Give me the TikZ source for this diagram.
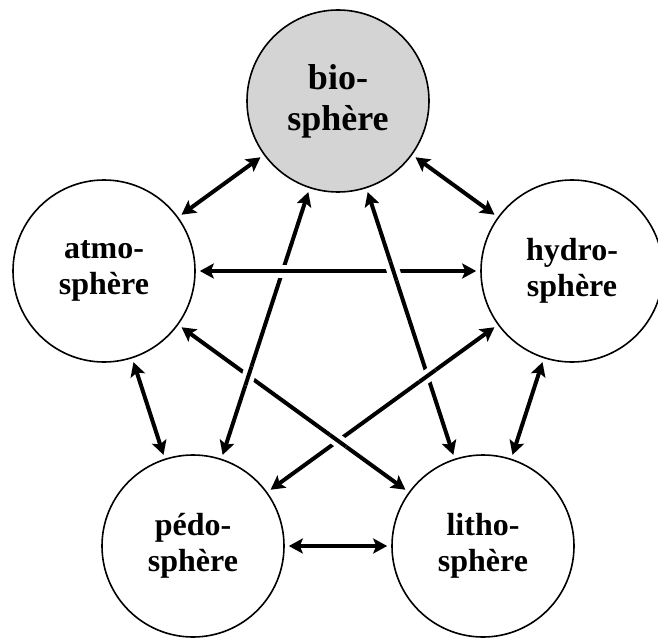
\documentclass[tikz,border=0pt]{standalone}
\usepackage{fontspec}
\setmainfont{Liberation Serif}
\usetikzlibrary{arrows.meta,calc}
\begin{document}
\begin{tikzpicture}[x=1pt,y=-1pt,
  sphere/.style={circle,draw,line width=1.6pt,minimum size=182pt,inner sep=0pt,align=center,
    font=\bfseries\fontsize{32}{36}\selectfont},
  link/.style={line width=4pt,
    {Stealth[length=14pt,width=15pt,inset=3pt]}-{Stealth[length=14pt,width=15pt,inset=3pt]},
    shorten <=4pt,shorten >=4pt},
  halo/.style={white,line width=13pt},
  plain/.style={line width=4pt}]
\useasboundingbox (0,0) rectangle (658,639);
\node[sphere,fill=black!17,font=\bfseries\fontsize{36}{41}\selectfont] (bio) at (338,101) {bio-\\sphère};
\node[sphere] (atmo) at (104,271) {atmo-\\sphère};
\node[sphere] (hydro) at (572,271) {hydro-\\sphère};
\node[sphere] (pedo) at (193,546) {pédo-\\sphère};
\node[sphere] (litho) at (483,546) {litho-\\sphère};
% adjacent links
\draw[link] (bio) -- (atmo);
\draw[link] (bio) -- (hydro);
\draw[link] (atmo) -- (pedo);
\draw[link] (hydro) -- (litho);
\draw[link] (pedo) -- (litho);
% star links
\draw[link] (atmo) -- (hydro);
\draw[link] (bio) -- (pedo);
\draw[link] (bio) -- (litho);
\draw[link] (atmo) -- (litho);
\draw[link] (hydro) -- (pedo);
% crossings (over-line redrawn with white halo)
\coordinate (c1) at (intersection of atmo--hydro and bio--pedo);
\coordinate (c2) at (intersection of atmo--hydro and bio--litho);
\coordinate (c3) at (intersection of bio--pedo and atmo--litho);
\coordinate (c4) at (intersection of hydro--pedo and bio--litho);
\coordinate (c5) at (intersection of atmo--litho and hydro--pedo);
\foreach \c/\p/\q in {c1/atmo/hydro, c2/bio/litho, c3/bio/pedo, c4/hydro/pedo, c5/atmo/litho}{
  \draw[halo] ($(\c)!10pt!(\p)$) -- ($(\c)!10pt!(\q)$);
  \draw[plain] ($(\c)!10pt!(\p)$) -- ($(\c)!10pt!(\q)$);
}
\end{tikzpicture}
\end{document}
